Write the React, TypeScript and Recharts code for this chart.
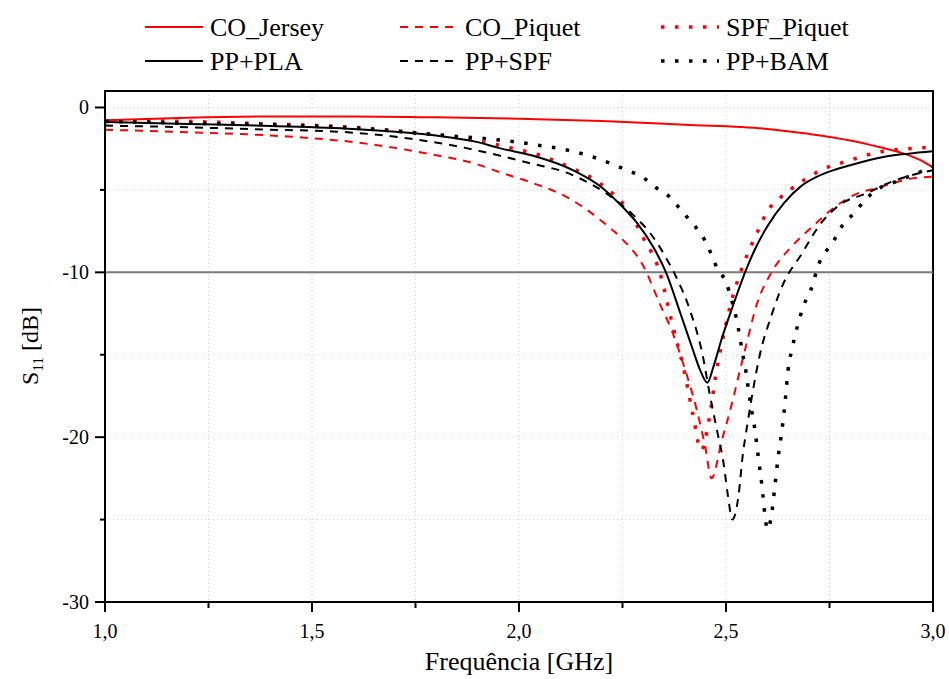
import {
  LineChart,
  Line,
  XAxis,
  YAxis,
  CartesianGrid,
  ReferenceLine,
  ReferenceArea,
  Legend,
  Label,
} from 'recharts'

// S11 curves (frequency in GHz, S11 in dB)
const coJerseyF = [1.0, 1.2, 1.4, 1.6, 1.8, 2.0, 2.2, 2.4, 2.6, 2.7, 2.8, 2.87, 2.93, 2.97, 3.0]
const coJerseyS = [-0.78, -0.62, -0.55, -0.55, -0.6, -0.68, -0.82, -1.05, -1.3, -1.6, -2.0, -2.4, -2.8, -3.2, -3.65]

const coPiquetF = [1.0, 1.2, 1.4, 1.6, 1.7, 1.8, 1.9, 1.95, 2.03, 2.12, 2.2, 2.25, 2.3, 2.34, 2.37, 2.4, 2.43, 2.45, 2.465, 2.49, 2.515, 2.534, 2.546, 2.575, 2.61, 2.66, 2.71, 2.76, 2.81, 2.87, 2.95, 3.0]
const coPiquetS = [-1.35, -1.5, -1.7, -2.1, -2.45, -2.9, -3.45, -3.9, -4.55, -5.5, -6.9, -8.0, -9.6, -11.9, -13.6, -15.8, -18.4, -20.6, -22.5, -20.2, -17.9, -15.9, -14.7, -11.9, -10.0, -8.4, -7.2, -6.1, -5.3, -4.85, -4.3, -4.2]

const spfPiquetF = [1.0, 1.2, 1.4, 1.6, 1.74, 1.87, 1.98, 2.05, 2.12, 2.19, 2.23, 2.26, 2.3, 2.34, 2.37, 2.4, 2.42, 2.44, 2.46, 2.475, 2.49, 2.517, 2.535, 2.577, 2.6, 2.63, 2.66, 2.73, 2.8, 2.87, 2.94, 3.0]
const spfPiquetS = [-0.8, -0.85, -1.0, -1.2, -1.5, -1.9, -2.45, -2.9, -3.6, -4.5, -5.3, -6.1, -7.9, -10.0, -13.1, -16.1, -18.6, -20.8, -18.8, -16.3, -14.3, -11.4, -10.0, -7.5, -6.3, -5.5, -4.9, -3.8, -3.2, -2.7, -2.5, -2.4]

const ppPlaF = [1.0, 1.2, 1.4, 1.6, 1.8, 1.9, 1.95, 2.03, 2.13, 2.2, 2.245, 2.285, 2.325, 2.355, 2.39, 2.42, 2.437, 2.455, 2.47, 2.49, 2.52, 2.546, 2.57, 2.6, 2.64, 2.68, 2.72, 2.76, 2.8, 2.88, 2.94, 3.0]
const ppPlaS = [-0.88, -1.0, -1.12, -1.3, -1.7, -2.1, -2.45, -2.9, -3.8, -4.85, -5.9, -7.0, -8.5, -10.0, -12.5, -14.7, -15.9, -16.7, -15.7, -14.0, -11.8, -10.0, -8.6, -7.2, -5.8, -4.8, -4.2, -3.8, -3.5, -3.0, -2.8, -2.65]

const ppSpfF = [1.0, 1.2, 1.4, 1.55, 1.74, 1.87, 1.95, 2.03, 2.12, 2.17, 2.21, 2.275, 2.325, 2.357, 2.38, 2.413, 2.445, 2.46, 2.48, 2.493, 2.505, 2.515, 2.53, 2.54, 2.553, 2.567, 2.58, 2.61, 2.64, 2.68, 2.73, 2.775, 2.84, 2.9, 2.95, 3.0]
const ppSpfS = [-1.1, -1.2, -1.35, -1.45, -1.9, -2.45, -2.9, -3.4, -4.0, -4.6, -5.2, -6.5, -7.9, -9.2, -10.3, -12.3, -15.2, -17.3, -19.8, -21.4, -23.6, -25.0, -23.6, -21.2, -19.0, -16.9, -15.2, -12.6, -10.6, -9.0, -7.0, -5.9, -5.2, -4.5, -4.1, -3.8]

const ppBamF = [1.0, 1.2, 1.4, 1.6, 1.8, 1.98, 2.05, 2.12, 2.19, 2.26, 2.3, 2.33, 2.365, 2.397, 2.425, 2.45, 2.48, 2.5, 2.515, 2.526, 2.54, 2.548, 2.558, 2.57, 2.578, 2.587, 2.594, 2.6, 2.61, 2.618, 2.626, 2.635, 2.643, 2.65, 2.66, 2.685, 2.71, 2.72, 2.76, 2.78, 2.81, 2.84, 2.87, 2.91, 2.95, 3.0]
const ppBamS = [-0.85, -0.95, -1.05, -1.25, -1.65, -2.05, -2.3, -2.6, -3.1, -3.8, -4.25, -4.85, -5.45, -6.4, -7.2, -8.1, -9.8, -10.6, -11.8, -12.9, -14.9, -16.0, -17.8, -19.6, -21.2, -23.0, -24.7, -25.6, -24.7, -23.0, -21.2, -19.6, -17.8, -15.9, -14.6, -12.2, -10.7, -9.8, -8.1, -7.2, -6.4, -5.5, -4.9, -4.5, -4.1, -3.6]

const xTicks = [1.0, 1.25, 1.5, 1.75, 2.0, 2.25, 2.5, 2.75, 3.0]
const yTicks = [-30, -25, -20, -15, -10, -5, 0]

const toPoints = (f: number[], s: number[]) => f.map((v, i) => ({ f: v, s: s[i] }))

const FONT = '"Liberation Serif", "Times New Roman", serif'
const DASH = '8 7'
const DOT = '3.5 10.5'

const series = [
  { name: 'CO_Jersey', data: toPoints(coJerseyF, coJerseyS), color: '#ff0000', dash: undefined, width: 2 },
  { name: 'CO_Piquet', data: toPoints(coPiquetF, coPiquetS), color: '#ff0000', dash: DASH, width: 2 },
  { name: 'SPF_Piquet', data: toPoints(spfPiquetF, spfPiquetS), color: '#ff0000', dash: DOT, width: 3.5 },
  { name: 'PP+PLA', data: toPoints(ppPlaF, ppPlaS), color: '#000000', dash: undefined, width: 2 },
  { name: 'PP+SPF', data: toPoints(ppSpfF, ppSpfS), color: '#000000', dash: DASH, width: 2 },
  { name: 'PP+BAM', data: toPoints(ppBamF, ppBamS), color: '#000000', dash: DOT, width: 3.5 },
]

const XTick = ({ x, y, payload }: any) => {
  const v = payload.value as number
  const major = Math.abs(v * 2 - Math.round(v * 2)) < 1e-6
  return (
    <g>
      <line x1={x} x2={x} y1={y} y2={y + (major ? 10 : 6)} stroke="#000" strokeWidth={2} />
      {major && (
        <text x={x} y={y + 36} textAnchor="middle" fontSize={20} fontFamily={FONT} fill="#000">
          {v.toFixed(1).replace('.', ',')}
        </text>
      )}
    </g>
  )
}

const YTick = ({ x, y, payload }: any) => {
  const v = payload.value as number
  const major = v % 10 === 0
  return (
    <g>
      <line x1={x} x2={x - (major ? 10 : 5)} y1={y} y2={y} stroke="#000" strokeWidth={2} />
      {major && (
        <text x={x - 16} y={y + 7} textAnchor="end" fontSize={20} fontFamily={FONT} fill="#000">
          {v}
        </text>
      )}
    </g>
  )
}

const legendCols = [145, 400, 661]
const legendRows = [27, 61]

const renderLegend = () => (
  <svg width={900} height={84}>
    {series.map((s, i) => {
      const lx = legendCols[i % 3]
      const ly = legendRows[Math.floor(i / 3)]
      return (
        <g key={s.name}>
          <line x1={lx} x2={lx + 58} y1={ly} y2={ly} stroke={s.color} strokeWidth={s.width} strokeDasharray={s.dash} />
          <text x={lx + 65} y={ly + 9} fontSize={26} fontFamily={FONT} fill="#000">
            {s.name}
          </text>
        </g>
      )
    })}
  </svg>
)

const YTitle = () => (
  <text transform="translate(38, 346) rotate(-90)" textAnchor="middle" fontSize={24} fontFamily={FONT} fill="#000">
    <tspan>S</tspan>
    <tspan fontSize={15} dy={5}>11</tspan>
    <tspan dy={-5}> [dB]</tspan>
  </text>
)

const XTitle = () => (
  <text x={519} y={670} textAnchor="middle" fontSize={26} fontFamily={FONT} fill="#000">
    Frequência [GHz]
  </text>
)

export default function App() {
  return (
    <div style={{ position: 'absolute', left: 0, top: 0, background: '#fff' }}>
      <LineChart width={949} height={679} margin={{ top: 91, right: 16, bottom: 17, left: 45 }}>
        <CartesianGrid stroke="#d0d0d0" strokeDasharray="1 3" />
        <XAxis
          dataKey="f"
          type="number"
          domain={[1, 3]}
          ticks={xTicks}
          height={60}
          tickSize={0}
          tickMargin={0}
          tickLine={false}
          axisLine={{ stroke: '#000', strokeWidth: 2 }}
          tick={<XTick />}
          interval={0}
          allowDataOverflow
        >
          <Label content={<XTitle />} />
        </XAxis>
        <YAxis
          type="number"
          domain={[-30, 1]}
          ticks={yTicks}
          width={60}
          tickSize={0}
          tickMargin={0}
          tickLine={false}
          axisLine={{ stroke: '#000', strokeWidth: 2 }}
          tick={<YTick />}
          interval={0}
          allowDataOverflow
        >
          <Label content={<YTitle />} />
        </YAxis>
        <ReferenceArea x1={1} x2={3} y1={-30} y2={1} fill="none" stroke="#000" strokeWidth={2} ifOverflow="visible" />
        <ReferenceLine y={-10} stroke="#7a7a7a" strokeWidth={2} />
        <Legend
          content={renderLegend}
          layout="horizontal"
          align="center"
          verticalAlign="middle"
          wrapperStyle={{ top: 0, left: 0, width: 900, height: 84 }}
        />
        {series.map((s) => (
          <Line
            key={s.name}
            name={s.name}
            data={s.data}
            dataKey="s"
            type="monotone"
            stroke={s.color}
            strokeWidth={s.width}
            strokeDasharray={s.dash}
            dot={false}
            activeDot={false}
            isAnimationActive={false}
          />
        ))}
      </LineChart>
    </div>
  )
}
